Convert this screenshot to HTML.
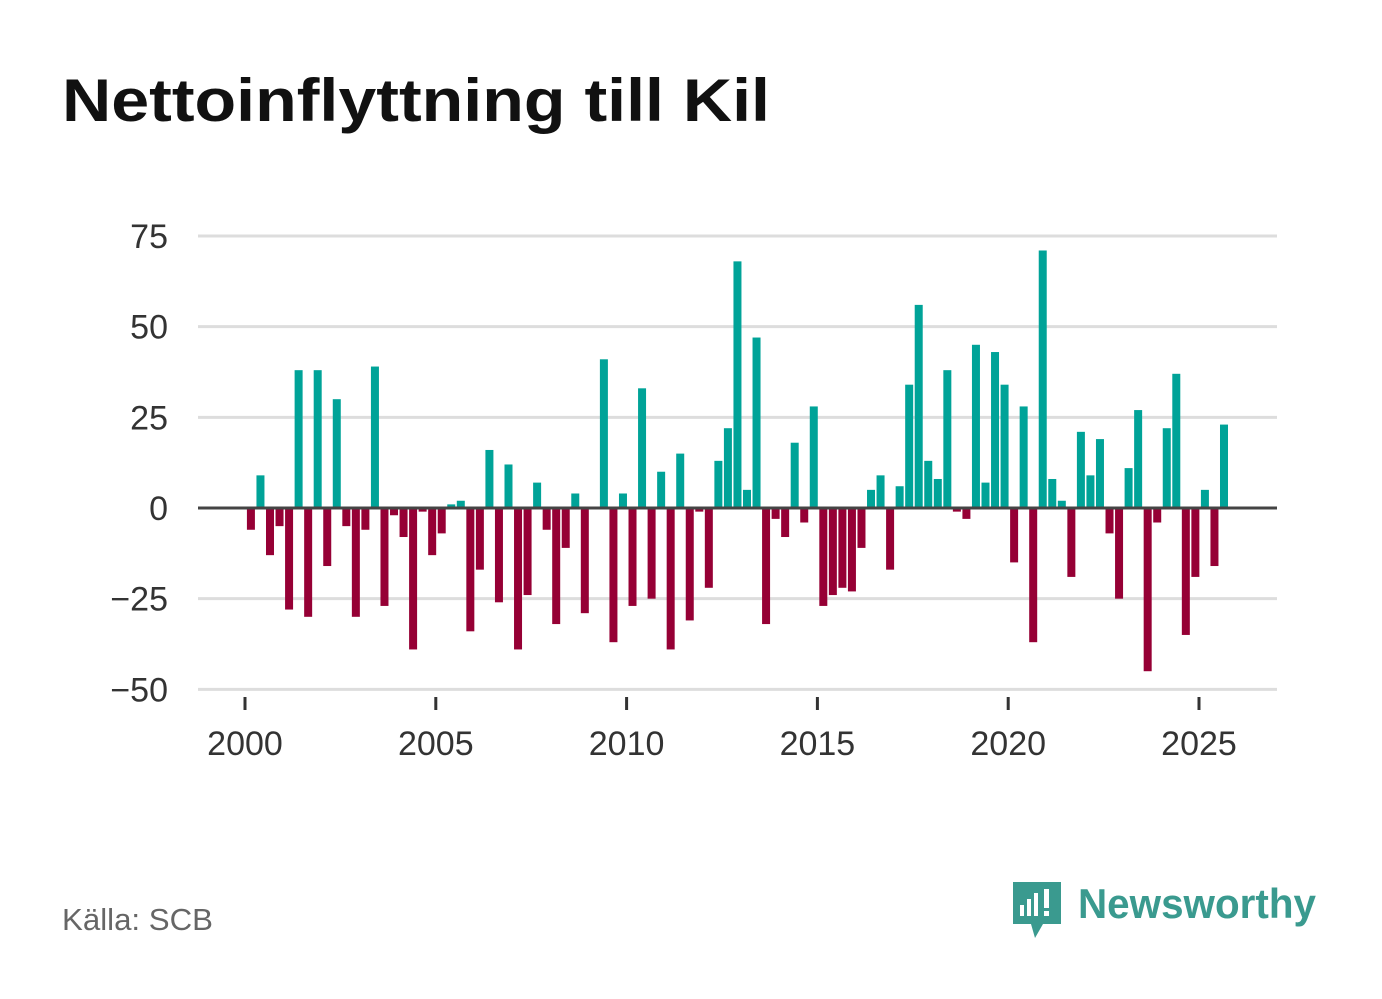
<!DOCTYPE html>
<html><head><meta charset="utf-8"><style>
body{margin:0;background:#fff;width:1382px;height:999px;overflow:hidden;font-family:"Liberation Sans",sans-serif}
svg{position:absolute;left:0;top:0}
</style></head><body>
<svg width="1382" height="999">
<text x="62" y="121" font-size="60" font-weight="bold" fill="#111" textLength="708" lengthAdjust="spacingAndGlyphs">Nettoinflyttning till Kil</text>
<g id="grid"></g><g id="bars"></g><g id="xaxis"></g>
<text x="62" y="930" font-size="31" fill="#666" textLength="151" lengthAdjust="spacingAndGlyphs">Källa: SCB</text>
<g>
<path d="M1013 882 h48 v42 h-18 l-8 14 l-4 -14 h-18 z" fill="#3a9a8f"/>
<rect x="1020" y="905" width="4" height="11" fill="#fff"/><rect x="1027" y="899" width="4" height="17" fill="#fff"/><rect x="1034" y="893" width="4" height="23" fill="#fff"/><rect x="1044" y="889" width="5" height="19" fill="#fff"/><rect x="1044" y="911" width="5" height="5" fill="#fff"/>
<text x="1078" y="918" font-size="42" font-weight="bold" fill="#3a9a8f" textLength="238" lengthAdjust="spacingAndGlyphs">Newsworthy</text>
</g>
</svg>
<script>
const values=[-6,9,-13,-5,-28,38,-30,38,-16,30,-5,-30,-6,39,-27,-2,-8,-39,-1,-13,-7,1,2,-34,-17,16,-26,12,-39,-24,7,-6,-32,-11,4,-29,0,41,-37,4,-27,33,-25,10,-39,15,-31,-1,-22,13,22,68,5,47,-32,-3,-8,18,-4,28,-27,-24,-22,-23,-11,5,9,-17,6,34,56,13,8,38,-1,-3,45,7,43,34,-15,28,-37,71,8,2,-19,21,9,19,-7,-25,11,27,-45,-4,22,37,-35,-19,5,-16,23];
const startYear=2000;
const yTicks=[75,50,25,0,-25,-50];
const xTicks=[2000,2005,2010,2015,2020,2025];
const NS="http://www.w3.org/2000/svg";
const y=v=>508-v*3.627;
const x=t=>245+(t-2000)*38.16;
function mk(tag,attrs,parent){const e=document.createElementNS(NS,tag);for(const k in attrs)e.setAttribute(k,attrs[k]);document.getElementById(parent).appendChild(e);return e;}
yTicks.forEach(v=>{
 const l=mk('line',{x1:198,x2:1277,y1:y(v),y2:y(v),stroke:'#ddd','stroke-width':3},'grid');
 
 
 const t=mk('text',{x:168,y:y(v)+12,'font-size':34,fill:'#333','text-anchor':'end'},'grid');
 t.textContent=(v<0?'\u2212'+(-v):v);
 
 
});
values.forEach((v,i)=>{
 const cx=x(startYear+i/4+0.155);
 const r=mk('rect',{x:cx-4,width:8,y:Math.min(y(v),508),height:Math.abs(y(v)-508),fill:v>=0?'#00a398':'#960035'},'bars');
 
 
});
const zl=mk('line',{x1:198,x2:1277,y1:508,y2:508,stroke:'#444','stroke-width':3},'bars');


xTicks.forEach(t=>{
 const tk=mk('line',{x1:x(t),x2:x(t),y1:697,y2:710,stroke:'#333','stroke-width':3},'xaxis');
 
 
 const tx=mk('text',{x:x(t),y:755,'font-size':34,fill:'#333','text-anchor':'middle'},'xaxis');
 tx.textContent=t;
 
 
});
</script>
</body></html>
